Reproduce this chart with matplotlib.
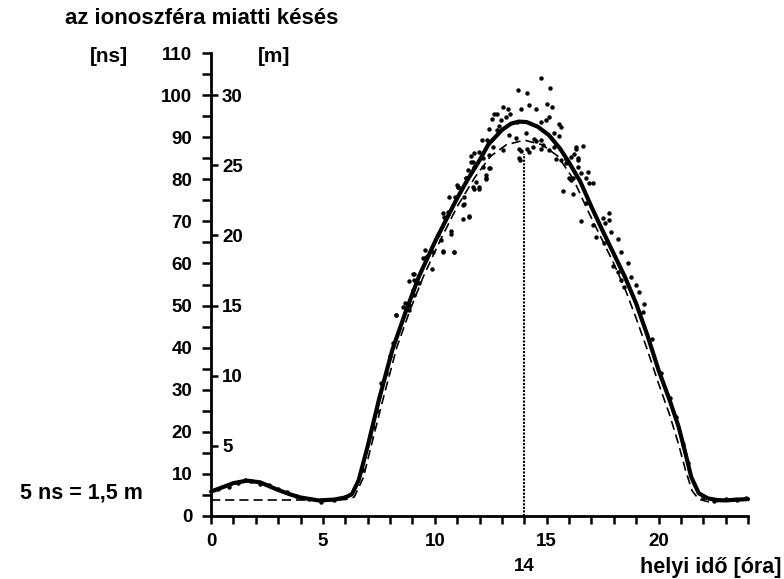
import numpy as np
import matplotlib
matplotlib.use("Agg")
import matplotlib.pyplot as plt

plt.rcParams['font.family'] = ['Liberation Sans', 'DejaVu Sans']
plt.rcParams['font.weight'] = 'bold'

# smoothed measured delay (solid curve), hours vs ns
solid_h = [0, 0.5, 1.0, 1.6, 2.2, 2.9, 3.5, 4.0, 4.8, 5.5, 6.0, 6.3, 6.6, 7.0, 7.5,
           8.1, 8.7, 9.3, 10.05, 11.0, 11.5, 12.0, 12.4, 13.0, 13.4, 13.75, 14.1,
           14.6, 15.1, 15.6, 16.0, 16.5, 17.0, 17.5, 18.0, 18.5, 19.0, 19.5, 20.0,
           20.5, 20.9, 21.2, 21.46, 21.8, 22.2, 22.6, 23.0, 23.5, 24.0]
solid_ns = [5.8, 6.8, 7.8, 8.4, 8.0, 6.4, 5.2, 4.4, 3.7, 3.9, 4.4, 5.2, 8.5, 16.5, 27.5,
            39.4, 48.5, 57.0, 65.6, 75.5, 80.2, 84.5, 88.3, 91.7, 93.2, 93.7, 93.6,
            92.5, 90.5, 87.3, 84.0, 79.5, 73.5, 67.8, 62.3, 56.8, 50.5, 43.0, 34.7,
            27.5, 21.2, 15.0, 9.3, 5.4, 4.2, 3.8, 3.7, 3.9, 4.0]

# model delay (dashed curve)
model_h = [0, 5.0, 6.0, 6.4, 6.8, 7.2, 7.7, 8.3, 8.9, 9.5, 10.2, 11.0, 11.8, 12.5,
           13.2, 14.0, 14.8, 15.5, 16.2, 16.8, 17.4, 18.0, 18.5, 19.0, 19.5, 20.0,
           20.5, 20.9, 21.2, 21.5, 21.8, 22.2, 22.8, 24.0]
model_ns = [3.8, 3.8, 3.9, 4.5, 9.0, 17.5, 28.0, 40.0, 49.0, 57.0, 65.0, 73.5, 80.5, 85.5,
            88.2, 89.3, 88.2, 85.5, 80.0, 73.0, 66.5, 60.0, 54.0, 47.0, 39.5, 31.5,
            24.0, 17.0, 11.0, 6.0, 4.0, 3.4, 3.5, 3.8]

# individual measurements (dots)
dot_h = [14.75, 13.73, 14.11, 15.15, 13.03, 13.26, 13.85, 14.23, 14.53, 15.00, 15.24,
         12.66, 12.78, 13.38, 12.54, 12.96, 13.18, 13.66, 14.75, 14.97, 15.12, 15.57,
         15.64, 12.44, 12.77, 12.88, 14.08, 15.35, 12.11, 12.33, 13.33, 13.63, 14.42,
         14.53, 14.75, 15.57, 12.62, 13.03, 13.78, 13.85, 14.12, 14.23, 14.38, 14.75,
         14.82, 15.12, 15.35, 16.31, 16.61, 11.77, 11.99, 11.62, 12.14, 12.44, 13.78,
         13.81, 15.42, 15.64, 15.87, 16.09, 16.39, 11.69, 12.14, 12.47, 16.39, 16.54,
         11.39, 12.29, 16.17, 16.76,
         11.62, 12.29, 12.29, 11.40, 11.84, 11.99, 11.77, 10.98, 11.02, 10.65, 10.92,
         11.32, 11.51, 11.25, 10.38, 10.57, 10.72, 10.13, 10.28, 9.58, 10.35, 10.87,
         9.46, 9.87, 9.08, 8.86, 9.31, 9.01, 9.08, 8.68, 8.56, 8.26, 8.83,
         16.32, 16.24, 16.39, 15.87, 16.84, 17.06, 16.88, 15.99, 16.09, 15.72, 16.17,
         16.76, 17.78, 17.81, 16.54, 17.51, 17.06, 17.63, 17.88, 18.18, 17.21, 17.58,
         18.33, 17.96, 18.63, 18.18, 18.78, 18.33, 19.00, 19.15, 18.48, 19.37,
         9.01, 9.09, 9.61, 9.91, 10.35, 10.88, 10.73, 10.43, 11.02, 11.25, 11.32, 11.55,
         11.47, 11.77, 12.44, 11.70, 11.99,
         8.27, 8.12, 7.59, 7.22, 8.86, 6.8, 7.1, 7.4, 7.8, 8.0,
         19.3, 19.7, 20.1, 20.5, 20.8, 21.1, 21.3,
         0.3, 0.8, 1.2, 1.5, 1.8, 2.2, 2.6, 3.0, 3.4, 3.8, 4.4, 4.9, 5.5, 6.0,
         22.0, 22.5, 23.0, 23.5, 23.9]
dot_ns = [104.0, 101.3, 100.6, 101.7, 97.1, 96.8, 96.6, 97.6, 96.7, 97.8, 97.2,
          95.6, 95.4, 95.6, 94.3, 94.2, 94.9, 93.7, 93.7, 94.1, 94.9, 93.1,
          92.5, 91.9, 91.7, 92.6, 90.9, 91.1, 89.3, 89.3, 90.5, 89.7, 89.6,
          89.1, 89.3, 90.3, 87.7, 86.9, 87.3, 86.7, 87.2, 86.5, 87.7, 87.3,
          88.1, 86.9, 87.6, 87.3, 87.9, 86.3, 86.5, 85.5, 85.0, 85.8, 85.0,
          84.6, 84.7, 84.6, 84.7, 85.4, 84.6, 84.2, 83.0, 82.6, 83.0, 81.4,
          80.2, 80.2, 80.2, 80.2,
          84.2, 81.0, 80.0, 80.2, 79.4, 78.2, 77.8, 78.6, 78.2, 75.7, 75.7,
          74.1, 71.3, 70.5, 71.9, 72.3, 67.8, 66.7, 65.6, 63.3, 63.0, 62.8,
          61.2, 58.6, 57.6, 55.9, 55.3, 53.7, 52.5, 50.7, 49.7, 47.7, 48.9,
          87.6, 86.0, 84.95, 83.8, 81.8, 79.2, 79.0, 80.2, 79.8, 77.3, 76.6,
          74.3, 71.9, 70.3, 70.2, 70.7, 69.1, 69.5, 67.5, 65.8, 66.3, 64.8,
          62.8, 59.4, 60.2, 58.0, 56.8, 56.1, 54.9, 53.3, 54.5, 50.3,
          57.6, 56.0, 61.6, 62.8, 62.8, 62.8, 67.1, 71.1, 78.2, 73.9, 75.8, 71.1,
          82.2, 83.0, 82.6, 78.2, 77.8,
          47.7, 41.0, 31.5, 21.2, 50.1, 11.0, 19.0, 25.0, 34.0, 38.0,
          48.5, 42.0, 34.0, 28.0, 23.5, 17.0, 12.5,
          6.3, 7.0, 7.9, 8.6, 8.2, 7.7, 7.3, 6.5, 5.6, 4.8, 4.1, 3.4, 3.9, 4.6,
          4.3, 3.6, 4.0, 3.8, 4.3]

x_ticks = [0, 5, 10, 15, 20]
ns_ticks = list(range(0, 111, 10))
m_ticks = [5, 10, 15, 20, 25, 30]
peak_hour = 14
peak_mark_top = 86
ns_to_m = 0.3

fig = plt.figure(figsize=(7.84, 5.79), dpi=100)
ax = fig.add_axes([211 / 784, 1 - 516 / 579, 537 / 784, 463 / 579])

ax.plot(model_h, model_ns, color='black', lw=1.2, dashes=(5.5, 3.0), clip_on=False)
ax.plot(solid_h, solid_ns, color='black', lw=3.0, solid_capstyle='round',
        solid_joinstyle='round', clip_on=False)
ax.plot(dot_h, dot_ns, 'o', color='black', ms=3.2, mew=0, clip_on=False)
ax.plot([peak_hour, peak_hour], [0, peak_mark_top], color='black', lw=1.5,
        linestyle=(0, (1, 0.7)))

ax.set_xlim(0, 24)
ax.set_ylim(0, 110)
for s in ['top', 'right']:
    ax.spines[s].set_visible(False)
for s in ['left', 'bottom']:
    ax.spines[s].set_linewidth(2.0)

ax.set_xticks(x_ticks)
ax.set_xticks(range(0, 25), minor=True)
ax.set_yticks(ns_ticks)
ax.set_yticks(range(0, 111, 5), minor=True)
ax.tick_params(axis='x', which='both', direction='out', length=5.5, width=1.8,
               labelsize=13.5, pad=7)
ax.tick_params(axis='y', which='both', direction='out', length=6.5, width=1.8,
               labelsize=13.5, pad=7)

sec = ax.secondary_yaxis(0, functions=(lambda v: v * ns_to_m, lambda v: v / ns_to_m))
sec.set_alignment('right')
sec.set_yticks(m_ticks)
sec.spines['right'].set_visible(False)
sec.spines['left'].set_visible(False)
sec.tick_params(axis='y', direction='out', length=5, width=1.8, labelsize=13.5, pad=3)

ax.text(peak_hour, -0.11, '14', transform=ax.get_xaxis_transform(), ha='center',
        va='center', fontsize=13.5, fontweight='bold')

fig.text(65 / 784, 1 - 18 / 579, 'az ionoszféra miatti késés', ha='left', va='center',
         fontsize=16, fontweight='bold')
fig.text(90 / 784, 1 - 57 / 579, '[ns]', ha='left', va='center', fontsize=15,
         fontweight='bold')
fig.text(258 / 784, 1 - 57 / 579, '[m]', ha='left', va='center', fontsize=15,
         fontweight='bold')
fig.text(20 / 784, 1 - 493 / 579, '5 ns = 1,5 m', ha='left', va='center', fontsize=15.5,
         fontweight='bold')
fig.text(782 / 784, 1 - 567 / 579, 'helyi idő [óra]', ha='right', va='center',
         fontsize=15.5, fontweight='bold')

fig.savefig('out.png', dpi=100, facecolor='white')
